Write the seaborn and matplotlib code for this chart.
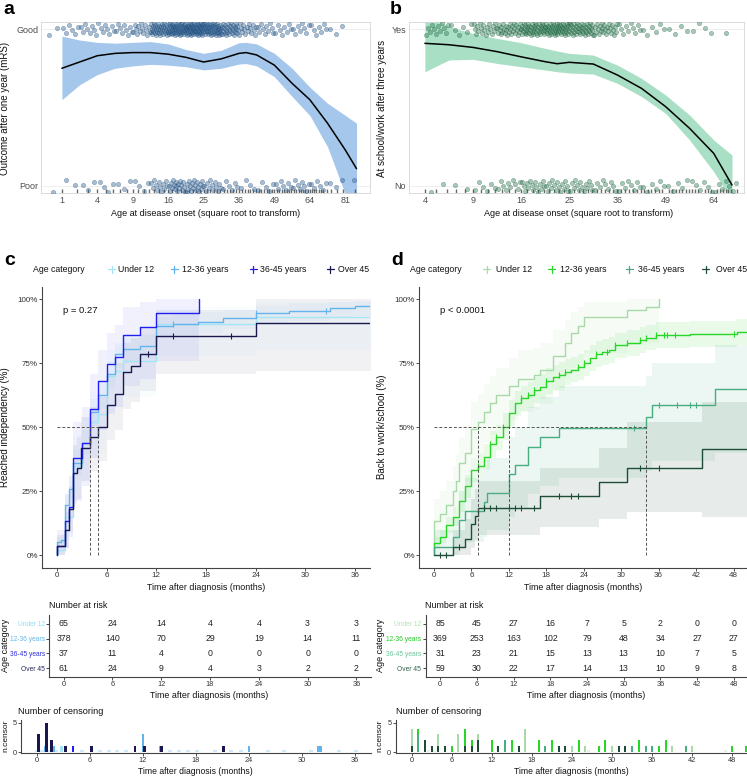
import numpy as np
import pandas as pd
import matplotlib
matplotlib.use("Agg")
import matplotlib.pyplot as plt
import seaborn as sns
from matplotlib.lines import Line2D
from matplotlib import font_manager

# ------------------------------------------------------------------ DATA
# panel a / b : individual patients binned by sqrt(age) (counts)
a_bin_edges = [0.5, 1.0, 1.5, 2.0, 2.5, 3.0, 3.5, 4.0, 4.5, 5.0, 5.5, 6.0, 6.5, 7.0, 7.5, 8.0, 8.5, 9.0, 9.5]
a_good_counts = [2, 6, 8, 8, 9, 14, 35, 50, 55, 45, 30, 15, 10, 8, 8, 7, 3, 0]
a_poor_counts = [1, 2, 3, 4, 3, 4, 12, 18, 18, 12, 6, 4, 5, 7, 8, 6, 3, 1]
a_fit_s = [1, 1.5, 2, 2.5, 3, 3.5, 4, 4.5, 5, 5.5, 6, 6.2, 6.5, 7, 7.5, 8, 8.5, 9, 9.32]
a_fit = [0.75, 0.79, 0.83, 0.845, 0.85, 0.85, 0.84, 0.82, 0.79, 0.81, 0.845, 0.85, 0.835, 0.77, 0.654, 0.55, 0.40, 0.23, 0.11]
a_hi = [0.955, 0.93, 0.915, 0.91, 0.915, 0.92, 0.905, 0.87, 0.845, 0.865, 0.913, 0.915, 0.905, 0.845, 0.75, 0.63, 0.527, 0.45, 0.40]
a_lo = [0.55, 0.645, 0.71, 0.75, 0.765, 0.775, 0.77, 0.76, 0.74, 0.75, 0.777, 0.78, 0.765, 0.696, 0.57, 0.45, 0.25, -0.05, -0.3]
a_ticks = [1, 4, 9, 16, 25, 36, 49, 64, 81]

b_bin_edges = [2.0, 2.5, 3.0, 3.5, 4.0, 4.5, 5.0, 5.5, 6.0, 6.5, 7.0, 7.5, 8.0, 8.5]
b_yes_counts = [12, 6, 20, 30, 45, 50, 40, 25, 10, 6, 4, 4, 1]
b_no_counts = [2, 2, 6, 10, 15, 15, 14, 9, 8, 6, 5, 6, 7]
b_fit_s = [2, 2.5, 3, 3.5, 4, 4.5, 4.75, 5, 5.5, 6, 6.5, 7, 7.5, 8, 8.38]
b_fit = [0.909, 0.900, 0.883, 0.856, 0.823, 0.792, 0.779, 0.788, 0.777, 0.707, 0.622, 0.506, 0.367, 0.208, 0.006]
b_hi = [1.10, 1.015, 0.972, 0.94, 0.913, 0.877, 0.86, 0.845, 0.834, 0.77, 0.686, 0.58, 0.452, 0.293, 0.197]
b_lo = [0.728, 0.803, 0.807, 0.781, 0.76, 0.739, 0.728, 0.72, 0.713, 0.654, 0.57, 0.463, 0.293, 0.091, -0.09]
b_ticks = [4, 9, 16, 25, 36, 49, 64]

groups = ["Under 12", "12-36 years", "36-45 years", "Over 45"]

# panel c : cumulative incidence of independency (%)
c_t = [[0, 1, 2, 3, 4, 5, 6, 7, 8, 12, 24],
       [0, 0.5, 1, 1.5, 2, 3, 4, 5, 6, 7, 8, 10, 12, 14, 17, 20, 24, 28, 33, 36],
       [0, 1, 1.5, 2, 3, 4, 5, 6, 7, 8, 10, 12, 17.2],
       [0, 1, 1.5, 2, 2.45, 2.9, 4, 5, 6, 7, 8, 9, 10, 12, 24]]
c_p = [[2, 15, 35, 42, 52, 55, 70, 72, 76, 90.5, 93],
       [5, 6, 19.5, 26, 36, 44, 56, 62.5, 71, 78.5, 80.5, 81.8, 89.5, 90.3, 91.2, 92.5, 94.5, 95.5, 96.5, 97.3],
       [3.5, 13.5, 19, 38, 44, 57, 68, 74.6, 77.6, 86, 89, 94.5, 100],
       [3.5, 10, 18, 32, 34, 42, 46, 50, 58.7, 63, 71.7, 74, 78.5, 85.7, 90.6]]
c_lo = [[0, 6, 22, 29, 38, 41, 56, 58, 62, 78, 80],
        [2.8, 3.7, 15.5, 21.5, 31, 39, 50.5, 57, 65.5, 73, 75, 76.5, 85, 86, 87, 88.5, 90.5, 91.5, 92.5, 93.5],
        [0, 3, 7, 21, 27, 38, 49, 55, 58, 66, 69, 76, 80],
        [0, 3, 9, 20, 22, 29, 33, 37, 45, 49, 57, 60, 64, 71, 72]]
c_hi = [[6, 25, 47, 54, 64, 67, 80, 82, 86, 97, 99],
        [7.2, 8.3, 23.5, 30.5, 41, 49, 61, 67.5, 76, 83, 85, 86.5, 93, 94, 95, 96, 97.5, 98.5, 99, 99.5],
        [10, 24, 31, 52, 58, 71, 80, 87, 90, 97, 99, 100, 100],
        [8, 17, 27, 43, 46, 54, 58, 62, 70, 75, 83, 85, 89, 96, 100]]
c_end = [38, 38, None, 38]
c_cens_marks = [[], [14, 24, 32.5], [], [11, 14, 21]]
c_medians = [4, 5]
c_pval = "p = 0.27"
c_risk_times = [0, 6, 12, 18, 24, 30, 36]
c_risk = [[65, 24, 14, 4, 4, 3, 3],
          [378, 140, 70, 29, 19, 14, 11],
          [37, 11, 4, 0, 0, 0, 0],
          [61, 24, 9, 4, 3, 2, 2]]
c_ncens_t = [[2.8], [0.95, 1.95, 12, 13.95, 24, 31.8, 32.1], [4.1],
             [0.15, 1.1, 1.65, 3.2, 6.2, 11.1, 12.2, 14.1, 21.1]]
c_ncens_n = [[1], [1, 1, 3, 1, 1, 1, 1], [1], [3, 5, 2, 1, 1, 1, 1, 1, 1]]
c_zero_t = [0, 0.56, 1.4, 2.15, 5.15, 7.1, 8.15, 9.1, 10.1, 15.1, 16.1, 17.1, 18.1, 20.1,
            22.0, 23.1, 26.1, 28.0, 31.0, 34.2, 36.1]

# panel d : cumulative incidence of return to work/school (%)
d_t = [[0, 1, 2, 3, 3.5, 4, 5, 6, 7, 8, 9, 10, 12, 13.5, 16, 17, 19, 21, 22, 23, 24, 31, 34, 36],
       [0, 1, 2, 3, 4, 5, 6, 7, 8, 9, 10, 11, 12, 13, 14, 15, 16, 17, 18, 19, 20, 21, 22, 23, 24,
        25, 26, 27, 28, 29, 31, 33, 34, 35.5, 41, 48.6],
       [0, 3, 4, 5, 8, 8.5, 12, 13, 15, 17, 20, 34, 35, 45],
       [0, 3, 5, 6, 6.5, 7, 17, 26.5, 31, 43]]
d_p = [[13.5, 16, 19.5, 25, 29, 36, 40, 49.5, 52, 56, 59.5, 62.5, 66, 69, 70.5, 72.5, 78, 83, 87, 89.5, 93, 96, 97, 100],
       [4.7, 7.3, 11.8, 15, 21, 27, 33.3, 34.9, 38.5, 43.5, 46, 50.2, 55.5, 59.4, 61.3, 62.6, 64.6, 65.9, 68, 69.5,
        70.5, 71.5, 72.5, 73.5, 75, 77, 78.7, 79.5, 80.3, 82, 83, 84, 85, 86, 86.5, 87.2],
       [3.3, 7, 13.8, 17.3, 20.9, 24.5, 31.6, 35.3, 42.4, 46, 49.6, 53.9, 58.7, 65],
       [0, 3.4, 6.2, 12.2, 15.4, 18.6, 23.2, 28.6, 34.2, 41.5]]
d_lo = [[6, 8, 11, 16, 19, 25, 29, 38, 40, 44, 47, 50, 53, 56, 57, 59, 64, 69, 73, 75, 79, 82, 83, 85],
        [2.5, 4.6, 8.5, 11.3, 16.8, 22.5, 28.5, 30, 33.5, 38.5, 41, 45, 50.5, 54.5, 56.3, 57.6, 59.6, 61, 63, 64.5,
         65.5, 66.5, 67.5, 68.5, 70, 72, 73.7, 74.5, 75.3, 77, 78, 79, 80, 81, 81.5, 82],
        [0, 0, 3, 5, 7, 10, 15, 18, 24, 27, 30, 33, 37, 40],
        [0, 0, 0, 3, 6, 8, 11, 14, 17, 15]]
d_hi = [[22, 25, 29, 35, 39, 46, 51, 60, 63, 67, 70, 73, 77, 80, 81, 83, 88, 92, 95, 97, 99, 100, 100, 100],
        [7, 10, 15, 18.7, 25.2, 31.5, 38, 39.8, 43.5, 48.5, 51, 55.4, 60.5, 64.3, 66.3, 67.6, 69.6, 70.8, 73, 74.5,
         75.5, 76.5, 77.5, 78.5, 80, 82, 83.7, 84.5, 85.3, 87, 88, 89, 90, 91, 91.5, 92.2],
        [10, 15, 25, 30, 34, 38, 46, 50, 58, 62, 66, 70, 75, 82],
        [0, 10, 14, 22, 26, 29, 34, 42, 52, 60]]
d_end = [None, 50.5, 50.5, 50.5]
d_cens_marks = [[],
                [7, 9, 10, 11, 14, 15, 16, 18, 20, 21, 23, 24, 26, 27.8, 29, 31, 33, 34, 35.5, 36.9, 37.4, 38.7, 48],
                [32, 36, 39, 41, 42],
                [1, 2, 4, 8, 9, 10, 12, 13, 14, 16, 20, 22, 23, 33, 36]]
d_medians = [7, 12, 34]
d_pval = "p < 0.0001"
d_risk_times = [0, 6, 12, 18, 24, 30, 36, 42, 48]
d_risk = [[85, 45, 27, 16, 7, 5, 2, 0, 0],
          [369, 253, 163, 102, 79, 48, 34, 27, 27],
          [31, 23, 21, 15, 13, 13, 10, 7, 5],
          [59, 30, 22, 17, 14, 13, 10, 9, 8]]
d_ncens_t = [[0, 4, 7, 10, 17, 24, 26, 30, 39, 42],
             [1, 6, 8, 9, 12, 15, 19, 21, 25, 28, 29, 34, 37, 38, 48, 50],
             [1, 14, 20, 33, 35, 36, 41],
             [0, 2, 3, 4, 5, 8, 9, 10, 13, 16, 22, 23, 31, 32]]
d_ncens_n = [[4, 3, 3, 3, 4, 1, 1, 1, 1, 1],
             [4, 1, 4, 2, 2, 2, 2, 2, 2, 1, 2, 2, 1, 2, 1, 1],
             [3, 2, 1, 1, 1, 1, 1],
             [1, 2, 1, 1, 1, 1, 1, 2, 1, 1, 1, 1, 1, 1]]
d_zero_t = [2.5, 3.5, 26.5, 47]

# ------------------------------------------------------------------ STYLE
sns.set_theme(style="white")
fams = {f.name for f in font_manager.fontManager.ttflist}
FONT = "Liberation Sans" if "Liberation Sans" in fams else "DejaVu Sans"
plt.rcParams["font.family"] = [FONT, "DejaVu Sans"]

c_colors = ["#a3e6f5", "#63b4ec", "#1f1ff5", "#18184e"]
c_lab_colors = ["#8fdcf0", "#66b6ee", "#2d2dd6", "#25255e"]
d_colors = ["#a8d9a8", "#28d628", "#48ae80", "#1d4d37"]
d_lab_colors = ["#b5e1b5", "#22cc22", "#6cc39a", "#2f5f48"]

W, H = 747, 778
fig = plt.figure(figsize=(W / 100, H / 100), dpi=100)


def rect(l, t, r, b):
    return [l / W, 1 - b / H, (r - l) / W, (b - t) / H]


def ftext(x, y, s, **kw):
    kw.setdefault("va", "center")
    kw.setdefault("color", "#111111")
    fig.text(x / W, 1 - y / H, s, **kw)


def jitter_points(edges, counts, level):
    xs, ys = [], []
    k = 0
    for b, n in enumerate(counts):
        lo, hi = edges[b], edges[b + 1]
        for i in range(n):
            xs.append(lo + (hi - lo) * (i + 0.5) / n)
            ys.append(level + 0.08 * (((k * 0.6180339 + b * 0.37) % 1.0) - 0.5))
            k += 1
    return xs, ys


def smooth_panel(ax, edges, top_counts, bot_counts, fit_s, fit, lo, hi, band, pt, pte,
                 xlim, ticks, ylabels):
    ax.fill_between(fit_s, lo, hi, color=band, lw=0, zorder=1)
    sns.lineplot(x=fit_s, y=fit, color="black", lw=1.1, ax=ax, zorder=3)
    xt, yt = jitter_points(edges, top_counts, 1.0)
    xb, yb = jitter_points(edges, bot_counts, 0.0)
    df = pd.DataFrame({"s": xt + xb, "y": yt + yb})
    sns.scatterplot(data=df, x="s", y="y", ax=ax, s=10, color=pt, edgecolor=pte,
                    linewidth=0.4, alpha=0.42, zorder=4)
    rug = sorted(set(np.round(np.square(df["s"].values))))
    rug = [r for r in rug if r > 0]
    sns.rugplot(x=np.sqrt(rug), ax=ax, height=0.022, color="#444444", lw=0.45, alpha=0.8)
    ax.set_xlim(*xlim)
    ax.set_ylim(-0.045, 1.045)
    ax.set_xticks(np.sqrt(ticks))
    ax.set_xticklabels([str(t) for t in ticks])
    ax.set_yticks([0, 1])
    ax.set_yticklabels(ylabels)
    ax.set_xlabel("")
    ax.set_ylabel("")
    ax.grid(axis="y", color="#ececec", lw=0.6)
    ax.grid(axis="x", visible=False)
    for sp in ax.spines.values():
        sp.set_color("#d4d4d4")
        sp.set_linewidth(0.6)
    ax.tick_params(length=0, labelsize=6.5, colors="#4d4d4d", pad=2.0)


# ------------------------------------------------------------------ PANEL a, b
axa = fig.add_axes(rect(41, 22, 370, 193))
smooth_panel(axa, a_bin_edges, a_good_counts, a_poor_counts, a_fit_s, a_fit, a_lo, a_hi,
             "#a4c7eb", "#2f6296", "#1c456e", (0.41, 9.7), a_ticks, ["Poor", "Good"])
axb = fig.add_axes(rect(409, 22, 744, 193))
smooth_panel(axb, b_bin_edges, b_yes_counts, b_no_counts, b_fit_s, b_fit, b_lo, b_hi,
             "#a9dfc5", "#2e7d55", "#1d5a3b", (1.67, 8.63), b_ticks, ["No", "Yes"])

ftext(3, 14, "a", fontsize=14, fontweight="bold", va="baseline", color="black")
ftext(390, 14, "b", fontsize=14, fontweight="bold", va="baseline", color="black")
ftext(5, 108, "Outcome after one year (mRS)", fontsize=7.0, rotation=90, ha="center")
ftext(382, 108, "At school/work after three years", fontsize=7.0, rotation=90, ha="center")
ftext(205.5, 214, "Age at disease onset (square root to transform)", fontsize=6.5, ha="center")
ftext(579, 214, "Age at disease onset (square root to transform)", fontsize=6.5, ha="center")


# ------------------------------------------------------------------ KM helpers
def km_panel(ax, T, P, LO, HI, ends, colors, cmarks, medians, pval, xlim, xticks, band_alpha):
    rows = []
    for g, (t, p, e) in enumerate(zip(T, P, ends)):
        tt = [0] + list(t) + ([e] if e else [])
        pp = [0] + list(p) + ([p[-1]] if e else [])
        for a, b in zip(tt, pp):
            rows.append((groups[g], a, b))
        tc = list(t) + ([e] if e else [])
        lo = list(LO[g]) + ([LO[g][-1]] if e else [])
        hi = list(HI[g]) + ([HI[g][-1]] if e else [])
        ax.fill_between(tc, lo, hi, step="post", color=colors[g], alpha=band_alpha, lw=0, zorder=1)
    df = pd.DataFrame(rows, columns=["group", "time", "pct"])
    sns.lineplot(data=df, x="time", y="pct", hue="group", palette=dict(zip(groups, colors)),
                 drawstyle="steps-post", estimator=None, sort=False, legend=False, lw=1.0,
                 ax=ax, zorder=3)
    for g in range(4):
        if not cmarks[g]:
            continue
        t = np.array(T[g])
        vals = [P[g][np.searchsorted(t, c, side="right") - 1] for c in cmarks[g]]
        ax.plot(cmarks[g], vals, ls="none", marker="|", ms=5, mew=0.8, color=colors[g], zorder=4)
    mx = max(medians)
    ax.plot([0, mx], [50, 50], ls=(0, (3, 2)), color="#555555", lw=0.7, zorder=5)
    for m in medians:
        ax.plot([m, m], [0, 50], ls=(0, (3, 2)), color="#555555", lw=0.7, zorder=5)
    ax.set_xlim(*xlim)
    ax.set_ylim(-5, 105)
    ax.set_xticks(xticks)
    ax.set_yticks([0, 25, 50, 75, 100])
    ax.set_yticklabels(["0%", "25%", "50%", "75%", "100%"])
    ax.set_xlabel("")
    ax.set_ylabel("")
    for s in ["top", "right"]:
        ax.spines[s].set_visible(False)
    for s in ["left", "bottom"]:
        ax.spines[s].set_color("#444444")
        ax.spines[s].set_linewidth(0.8)
    ax.tick_params(length=2, width=0.6, pad=1, labelsize=5.8, colors="#333333", left=True, bottom=True)
    ax.text(0.065, 0.915, pval, transform=ax.transAxes, fontsize=6.8, color="#111111", va="center")


def risk_table(ax, times, counts, labcols, xlim):
    for r, cnts in enumerate(counts):
        for t, n in zip(times, cnts):
            ax.text(t, 4 - r, str(n), ha="center", va="center", fontsize=6.3, color="#222222")
    ax.set_xlim(*xlim)
    ax.set_ylim(0.4, 4.6)
    ax.set_xticks(times)
    ax.set_yticks([4, 3, 2, 1])
    ax.set_yticklabels(groups)
    for lab, col in zip(ax.get_yticklabels(), labcols):
        lab.set_color(col)
        lab.set_fontsize(4.8)
    for s in ["top", "right"]:
        ax.spines[s].set_visible(False)
    for s in ["left", "bottom"]:
        ax.spines[s].set_color("#444444")
        ax.spines[s].set_linewidth(0.8)
    ax.tick_params(axis="x", length=2, width=0.6, pad=1, labelsize=5.3, colors="#333333", bottom=True)
    ax.tick_params(axis="y", length=2, width=0.6, pad=1, left=True)


def censor_plot(ax, Tc, Nc, zeros, colors, xlim, xticks, zero_color):
    ax.bar(zeros, [0.28] * len(zeros), width=0.45, color=zero_color, lw=0, zorder=1)
    for g in range(4):
        ax.bar(Tc[g], Nc[g], width=0.3, color=colors[g], lw=0, zorder=2 + g)
    ax.set_xlim(*xlim)
    ax.set_ylim(-0.15, 5.45)
    ax.set_xticks(xticks)
    ax.set_yticks([0, 5])
    for s in ["top", "right"]:
        ax.spines[s].set_visible(False)
    for s in ["left", "bottom"]:
        ax.spines[s].set_color("#444444")
        ax.spines[s].set_linewidth(0.8)
    ax.tick_params(length=2, width=0.6, pad=1, labelsize=5.3, colors="#333333", left=True, bottom=True)


def legend_row(xt, items, y, colors):
    ftext(xt, y, "Age category", fontsize=6.3, ha="left")
    for (mx, lx), lab, col in zip(items, groups, colors):
        fig.add_artist(Line2D([(mx - 3.5) / W, (mx + 3.5) / W], [1 - y / H] * 2, color=col, lw=0.9,
                              transform=fig.transFigure))
        fig.add_artist(Line2D([mx / W] * 2, [1 - (y - 3.5) / H, 1 - (y + 3.5) / H], color=col, lw=0.9,
                              transform=fig.transFigure))
        ftext(lx, y, lab, fontsize=6.3, ha="left")


# ------------------------------------------------------------------ PANEL c
c_xlim = (-1.8, 37.8)
c_xt = [0, 6, 12, 18, 24, 30, 36]
axc = fig.add_axes(rect(42, 286.5, 370, 568))
km_panel(axc, c_t, c_p, c_lo, c_hi, c_end, c_colors, c_cens_marks, c_medians, c_pval,
         c_xlim, c_xt, 0.06)
ftext(4, 265, "c", fontsize=14, fontweight="bold", va="baseline", color="black")
legend_row(33, [(111.5, 118.5), (174, 182.5), (253, 260.5), (330, 338.5)], 269, c_colors)
ftext(5, 427, "Reached independency (%)", fontsize=7.0, rotation=90, ha="center")
ftext(206.5, 588, "Time after diagnosis (months)", fontsize=6.4, ha="center")

axcr = fig.add_axes(rect(49, 615, 371, 677))
risk_table(axcr, c_risk_times, c_risk, c_lab_colors, c_xlim)
ftext(49, 606, "Number at risk", fontsize=6.4, ha="left")
ftext(6, 645, "Age category", fontsize=6.5, rotation=90, ha="center")
ftext(209.5, 695, "Time after diagnosis (months)", fontsize=6.4, ha="center")

axcc = fig.add_axes(rect(21, 720, 371, 753))
censor_plot(axcc, c_ncens_t, c_ncens_n, c_zero_t, c_colors, c_xlim, c_xt, "#cde8f7")
ftext(18, 711, "Number of censoring", fontsize=6.6, ha="left")
ftext(6, 736, "n.censor", fontsize=6.0, rotation=90, ha="center")
ftext(195, 772, "Time after diagnosis (months)", fontsize=6.2, ha="center")

# ------------------------------------------------------------------ PANEL d
d_xlim = (-2.4, 50.4)
d_xt = [0, 6, 12, 18, 24, 30, 36, 42, 48]
axd = fig.add_axes(rect(419, 286.5, 748.5, 568))
km_panel(axd, d_t, d_p, d_lo, d_hi, d_end, d_colors, d_cens_marks, d_medians, d_pval,
         d_xlim, d_xt, 0.1)
ftext(391, 265, "d", fontsize=14, fontweight="bold", va="baseline", color="black")
legend_row(410, [(486.5, 495.5), (551.5, 559.5), (629, 637.5), (705.5, 715.5)], 269, d_colors)
ftext(382, 427, "Back to work/school (%)", fontsize=7.0, rotation=90, ha="center")
ftext(583, 588, "Time after diagnosis (months)", fontsize=6.4, ha="center")

axdr = fig.add_axes(rect(425.5, 615, 748.5, 677))
risk_table(axdr, d_risk_times, d_risk, d_lab_colors, d_xlim)
ftext(425, 606, "Number at risk", fontsize=6.4, ha="left")
ftext(380.5, 645, "Age category", fontsize=6.5, rotation=90, ha="center")
ftext(586.5, 695, "Time after diagnosis (months)", fontsize=6.4, ha="center")

axdc = fig.add_axes(rect(395.5, 720, 748.5, 753))
censor_plot(axdc, d_ncens_t, d_ncens_n, d_zero_t, d_colors, d_xlim, d_xt, "#e3f2e3")
ftext(395.5, 711, "Number of censoring", fontsize=6.6, ha="left")
ftext(379.5, 736, "n.censor", fontsize=6.0, rotation=90, ha="center")
ftext(571.5, 772, "Time after diagnosis (months)", fontsize=6.2, ha="center")

fig.savefig("out.png", dpi=100)
